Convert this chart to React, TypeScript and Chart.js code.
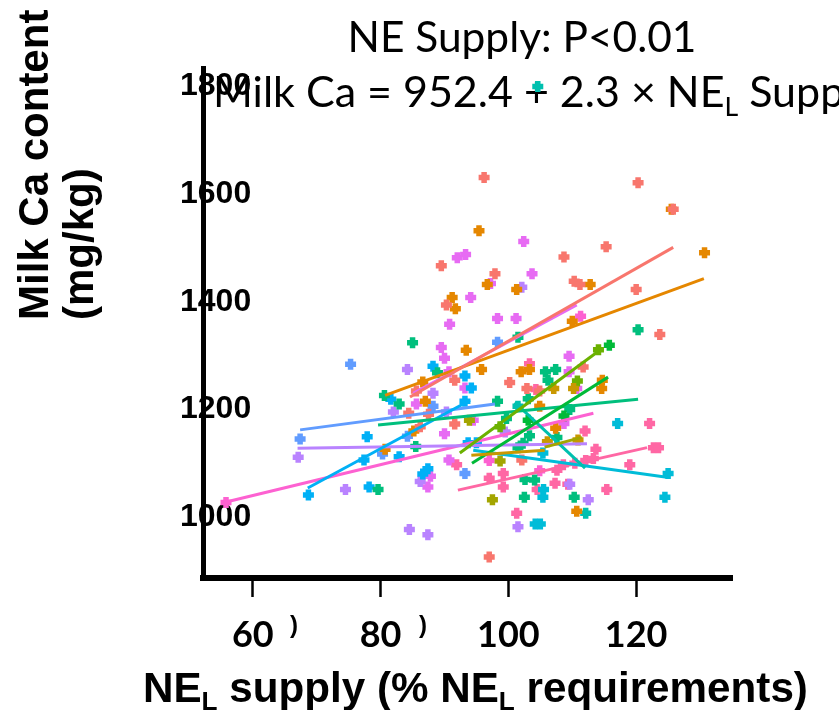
import { useEffect, useRef } from "react";
import { Chart, registerables } from "chart.js";
Chart.register(...registerables);

// ---- tick labels ----
const xTicks = [60, 80, 100, 120];
const yTicks = [1000, 1200, 1400, 1600, 1800];

// ---- text ----
const titleLine1 = "NE Supply: P<0.01";
const titleLine2a = "Milk Ca = 952.4 + 2.3 × NE";
const titleLine2sub = "L";
const titleLine2b = " Supply";
const yTitle1 = "Milk Ca content";
const yTitle2 = "(mg/kg)";

// ---- study colours ----
const studyColors = [
  "#F8766D", "#E58700", "#C99800", "#A3A500", "#6BB100",
  "#00BA38", "#00BF7D", "#00C0AF", "#00BCD8", "#00B0F6",
  "#619CFF", "#B983FF", "#E76BF3", "#FD61D1", "#FF67A4",
];

// ---- observations per study: [NEL supply %, milk Ca mg/kg] ----
const study01 = [[96.2,1631],[120.3,1621],[125.8,1572],[89.5,1467],[115.3,1502],[108.7,1483],[97.9,1452],[110.3,1438],[111.2,1432],[120.0,1423],[90.3,1394],[123.7,1339],[91.6,1254],[85.6,1234],[84.4,1193],[87.5,1191],[91.6,1173],[86.2,1168],[100.2,1250],[102.9,1239],[104.9,1234],[111.7,1279],[102.1,1106],[97.0,926]];
const study02 = [[95.4,1532],[125.5,1572],[130.7,1491],[96.7,1432],[101.3,1423],[112.8,1432],[91.2,1408],[91.7,1387],[110.0,1364],[93.4,1310],[95.8,1274],[86.6,1251],[87.0,1215],[85.2,1160],[80.7,1126],[102.0,1270],[103.3,1274],[114.7,1254],[114.6,1239],[104.9,1206],[107.4,1165],[110.7,1011]];
const study03 = [[107.1,1239],[110.2,1239],[106.1,1140],[110.9,1143]];
const study04 = [[98.7,1104],[97.5,1032],[93.9,1180]];
const study05 = [[114.1,1311],[110.8,1253],[98.7,1168]];
const study06 = [[115.8,1319],[108.7,1188],[103.1,1180]];
const study07 = [[85.0,1324],[101.5,1334],[120.3,1348],[88.9,1268],[80.6,1226],[82.9,1210],[85.5,1131],[79.6,1051],[105.8,1270],[107.4,1274],[106.2,1254],[98.3,1215],[103.1,1220],[99.7,1183],[109.6,1200],[103.3,1151],[107.6,1148],[102.3,1137],[101.5,1129],[102.6,1070],[104.1,1069],[102.5,1037],[110.3,1037]];
const study08 = [[104.6,1800],[101.5,1206],[112.1,1007]];
const study09 = [[117.1,1174],[105.4,1119],[105.5,1051],[105.4,1037],[125.0,1081],[124.5,1037],[104.2,987],[105.0,987]];
const study10 = [[88.2,1280],[81.6,1219],[77.9,1149],[82.9,1112],[77.4,1106],[87.4,1090],[86.6,1080],[78.2,1056],[68.7,1041],[93.2,1262],[94.2,1240],[93.2,1215],[93.7,1138],[95.0,1138]];
const study11 = [[75.3,1284],[88.2,1206],[84.2,1150],[67.4,1145],[80.3,1117],[98.3,1325],[93.2,1081]];
const study12 = [[102.1,1427],[84.2,1274],[88.2,1230],[82.0,1195],[90.3,1195],[67.1,1111],[86.2,1066],[74.5,1051],[84.5,977],[87.4,967],[99.5,1158],[109.6,1061],[112.5,1032],[101.5,982]];
const study13 = [[92.0,1482],[93.3,1488],[102.4,1512],[103.7,1452],[97.2,1434],[94.1,1408],[90.8,1358],[98.3,1369],[101.2,1369],[89.5,1315],[90.0,1295],[90.7,1270],[85.6,1210],[90.0,1155],[109.5,1299],[109.5,1270],[110.7,1239],[108.7,1174],[94.5,1180],[93.2,1240],[87.8,1076],[87.4,1056],[90.7,1106]];
const study14 = [[55.8,1027],[111.3,1373],[97.0,1105],[104.9,1086]];
const study15 = [[103.3,1285],[104.3,1237],[122.1,1174],[112.0,1160],[113.7,1126],[122.7,1129],[123.5,1129],[112.1,1105],[113.3,1109],[110.4,1100],[107.6,1087],[108.6,1097],[119.0,1097],[97.0,1072],[99.2,1081],[99.2,1056],[107.3,1063],[109.3,1061],[104.5,1051],[115.4,1051],[101.3,1007],[91.9,1097]];

// ---- within-study regression lines: [start, end] ----
const fit01 = [[84.6,1223],[125.8,1501]];
const fit02 = [[80.7,1226],[130.6,1443]];
const fit03 = [[94.2,1115],[105.7,1124]];
const fit04 = [[105.7,1130],[111.5,1148]];
const fit05 = [[92.4,1119],[114.3,1310]];
const fit06 = [[94.3,1100],[115.6,1260]];
const fit07 = [[79.6,1171],[120.3,1219]];
const fit08 = [[101.0,1213],[112.0,1091]];
const fit09 = [[94.5,1124],[124.8,1074]];
const fit10 = [[68.6,1054],[94.0,1217]];
const fit11 = [[67.4,1162],[97.9,1210]];
const fit12 = [[67.0,1128],[112.3,1136]];
const fit13 = [[85.1,1230],[110.7,1394]];
const fit14 = [[55.8,1028],[113.3,1193]];
const fit15 = [[92.1,1050],[121.7,1129]];

const studies = [study01, study02, study03, study04, study05, study06, study07, study08, study09, study10, study11, study12, study13, study14, study15];
const fits = [fit01, fit02, fit03, fit04, fit05, fit06, fit07, fit08, fit09, fit10, fit11, fit12, fit13, fit14, fit15];

const toXY = (arr: number[][]) => arr.map(([x, y]) => ({ x, y }));

function fitSize(ctx: CanvasRenderingContext2D, text: string, target: number, weight: string, family: string) {
  ctx.font = `${weight} 100px ${family}`;
  return (100 * target) / ctx.measureText(text).width;
}

const textPlugin = {
  id: "textPlugin",
  beforeDatasetsDraw(chart: any) {
    const ctx: CanvasRenderingContext2D = chart.ctx;
    ctx.save();
    ctx.fillStyle = "#000";
    ctx.textBaseline = "alphabetic";

    // title line 1
    const s1 = fitSize(ctx, titleLine1, 349, "normal", "Lato");
    ctx.font = `normal ${s1}px Lato`;
    ctx.textAlign = "center";
    ctx.fillText(titleLine1, 522, 52);

    // title line 2
    const s2 = fitSize(ctx, "Milk Ca = 952.4 + 2.3 × ", 454, "normal", "Lato");
    ctx.textAlign = "left";
    ctx.font = `normal ${s2}px Lato`;
    let x = 213;
    ctx.fillText(titleLine2a, x, 107);
    x += ctx.measureText(titleLine2a).width;
    ctx.font = `normal ${s2 * 0.62}px Lato`;
    ctx.fillText(titleLine2sub, x, 107 + s2 * 0.2);
    x += ctx.measureText(titleLine2sub).width;
    ctx.font = `normal ${s2}px Lato`;
    ctx.fillText(titleLine2b, x, 107);

    // y axis title
    ctx.save();
    ctx.font = "bold 42px 'Liberation Sans'";
    ctx.translate(48, 320);
    ctx.rotate(-Math.PI / 2);
    ctx.textAlign = "left";
    ctx.fillText(yTitle1, 0, 0);
    ctx.fillText(yTitle2, 0, 45);
    ctx.restore();

    // x axis title with subscripts
    const segs: [string, boolean][] = [["NE", false], ["L", true], [" supply (% NE", false], ["L", true], [" requirements)", false]];
    const measure = (S: number) => {
      let w = 0;
      for (const [t, sub] of segs) {
        ctx.font = `bold ${sub ? S * 0.62 : S}px 'Liberation Sans'`;
        w += ctx.measureText(t).width;
      }
      return w;
    };
    const S = (100 * 665) / measure(100);
    let xx = 143;
    ctx.textAlign = "left";
    for (const [t, sub] of segs) {
      ctx.font = `bold ${sub ? S * 0.62 : S}px 'Liberation Sans'`;
      ctx.fillText(t, xx, sub ? 702 + S * 0.2 : 702);
      xx += ctx.measureText(t).width;
    }

    // stray bracket glyphs under the x axis
    ctx.font = "bold 24px 'Liberation Sans'";
    ctx.textAlign = "center";
    ctx.textBaseline = "middle";
    ctx.fillText(")", 294, 626);
    ctx.fillText(")", 423, 626);
    ctx.restore();
  },
};

export default function App() {
  const ref = useRef<HTMLCanvasElement>(null);
  useEffect(() => {
    document.body.style.margin = "0";
    const pointSets = studies.map((s, i) => ({
      label: `Study ${i + 1}`,
      data: toXY(s),
      showLine: false,
      pointStyle: "cross",
      pointRadius: 5.5,
      pointHoverRadius: 5.5,
      pointBorderWidth: 5.5,
      pointBorderColor: studyColors[i],
      pointBackgroundColor: studyColors[i],
      borderColor: studyColors[i],
      order: 1,
    }));
    const fitSets = fits.map((f, i) => ({
      label: `Fit ${i + 1}`,
      data: toXY(f),
      showLine: true,
      pointRadius: 0,
      borderWidth: 3,
      borderColor: studyColors[i],
      backgroundColor: studyColors[i],
      order: 0,
    }));
    const chart = new Chart(ref.current!, {
      type: "scatter",
      data: { datasets: [...pointSets, ...fitSets] as any },
      plugins: [textPlugin as any],
      options: {
        responsive: false,
        animation: false,
        devicePixelRatio: 1,
        layout: { padding: { left: 0, top: 68, right: 107, bottom: 0 } },
        plugins: { legend: { display: false }, tooltip: { enabled: false }, title: { display: false } },
        scales: {
          x: {
            type: "linear",
            min: 52.2,
            max: 135,
            afterFit: (s: any) => { s.height = 132; },
            afterBuildTicks: (s: any) => { s.ticks = xTicks.map((v) => ({ value: v })); },
            grid: { drawOnChartArea: false, drawTicks: true, tickLength: 19, tickWidth: 2.5, tickColor: "#000" },
            border: { display: true, color: "#000", width: 6 },
            ticks: { font: { family: "Lato", weight: "bold", size: 36 }, color: "#000", padding: 17, maxRotation: 0, autoSkip: false, callback: (v: any) => String(v) },
          },
          y: {
            type: "linear",
            min: 886.8,
            max: 1834.3,
            afterFit: (s: any) => { s.width = 203; },
            afterBuildTicks: (s: any) => { s.ticks = yTicks.map((v) => ({ value: v })); },
            grid: { drawOnChartArea: false, drawTicks: false },
            border: { display: true, color: "#000", width: 5 },
            ticks: { font: { family: "'Liberation Sans'", weight: "bold", size: 32 }, color: "#000", mirror: true, padding: -23, callback: (v: any) => String(v) },
          },
        },
      } as any,
    });
    return () => chart.destroy();
  }, []);
  return (
    <div style={{ width: 839, height: 710, position: "relative" }}>
      <canvas ref={ref} width={839} height={710} style={{ width: 839, height: 710, display: "block" }} />
    </div>
  );
}
